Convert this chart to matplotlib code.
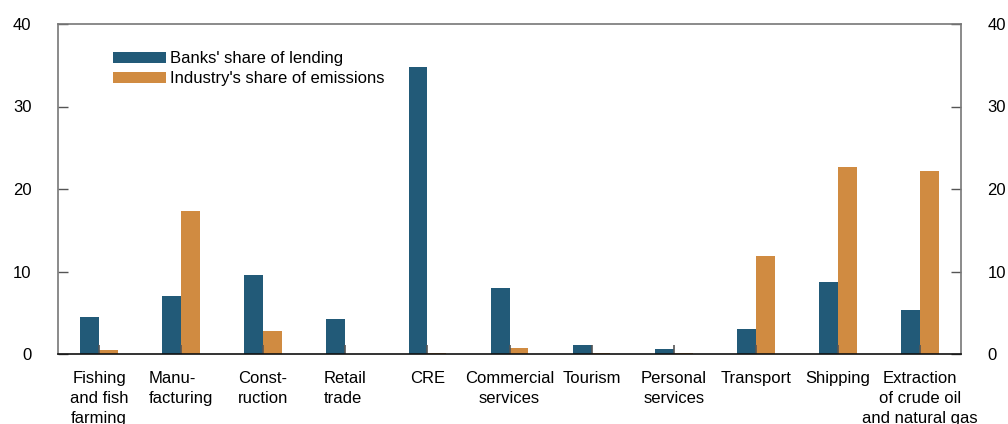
import matplotlib
matplotlib.use("Agg")
import matplotlib.pyplot as plt
import numpy as np

plt.rcParams['font.family'] = ['Liberation Sans', 'DejaVu Sans']

categories = ["Fishing\nand fish\nfarming", "Manu-\nfacturing", "Const-\nruction", "Retail\ntrade",
              "CRE", "Commercial\nservices", "Tourism", "Personal\nservices", "Transport",
              "Shipping", "Extraction\nof crude oil\nand natural gas"]
lending = [4.5, 7.0, 9.6, 4.3, 34.8, 8.0, 1.1, 0.6, 3.0, 8.7, 5.3]
emissions = [0.5, 17.3, 2.8, 0.05, 0.1, 0.7, 0.1, 0.1, 11.9, 22.7, 22.2]
yticks = [0, 10, 20, 30, 40]
left_aligned = {"Manu-\nfacturing", "Const-\nruction", "Retail\ntrade"}

blue = "#225a78"
orange = "#d08b41"

fig = plt.figure(figsize=(10.08, 4.24), dpi=100)
ax = fig.add_axes([58/1008, 70/424, 903/1008, 330/424])

x = np.arange(len(categories))
w = 0.23
ax.bar(x - w/2, lending, width=w, color=blue, label="Banks' share of lending", zorder=1)
ax.bar(x + w/2, emissions, width=w, color=orange, label="Industry's share of emissions", zorder=1)

ax.set_xlim(-0.5, len(categories) - 0.5)
ax.set_ylim(0, 40)
ax.set_yticks(yticks)
ax.set_xticks(x)
labels = ax.set_xticklabels(categories, fontsize=12, linespacing=1.42, va='top')
for lab, cat in zip(labels, categories):
    if cat in left_aligned:
        lab.set_multialignment('left')

ax.tick_params(axis='y', which='both', left=True, right=True, labelleft=True, labelright=True,
               direction='in', length=7, width=1, color='#555555', labelsize=12, pad=19)
ax.tick_params(axis='x', direction='in', length=6.5, width=1.2, color='#555555', pad=12)

for s in ['top', 'left', 'right']:
    ax.spines[s].set_color('#777777')
    ax.spines[s].set_linewidth(1.2)
ax.spines['bottom'].set_color('#111111')
ax.spines['bottom'].set_linewidth(1.2)

leg = ax.legend(loc='upper left', bbox_to_anchor=(0.061, 0.917), frameon=False, fontsize=12,
                borderaxespad=0, borderpad=0, handlelength=3.2, handleheight=0.6,
                handletextpad=0.2, labelspacing=0.3)

fig.savefig("out.png", dpi=100)
